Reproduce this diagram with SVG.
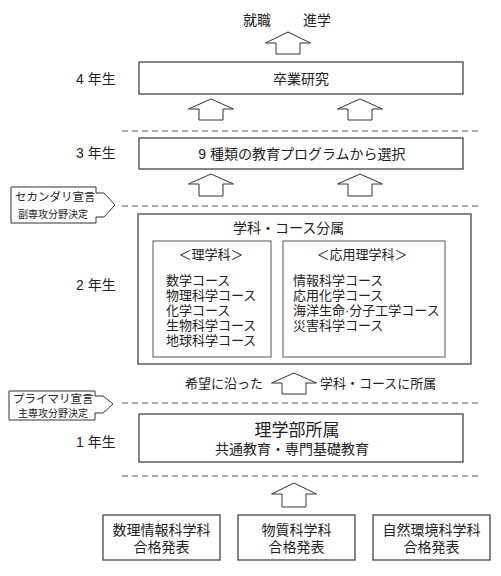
<svg xmlns="http://www.w3.org/2000/svg" width="501" height="576" viewBox="0 0 501 576">
<style>
  text { font-family: "Liberation Sans", "Noto Sans CJK JP", sans-serif; fill: #222; dominant-baseline: central; }
  .box { fill: #fff; stroke: #444; stroke-width: 1.3; }
  .inner { fill: #fff; stroke: #555; stroke-width: 1; }
  .arrow { fill: #fff; stroke: #333; stroke-width: 1; }
  .dash { stroke: #555; stroke-width: 1; stroke-dasharray: 6 4; fill: none; }
  .c { text-anchor: middle; }
  .m { font-size: 14px; }
  .s { font-size: 13px; }
</style>
<rect width="501" height="576" fill="#fff"/>

<g id="connectors">
  <line class="dash" x1="122" y1="131" x2="480" y2="131"/>
  <line class="dash" x1="122" y1="206" x2="480" y2="206"/>
  <line class="dash" x1="122" y1="403" x2="480" y2="403"/>
  <line class="dash" x1="122" y1="476" x2="480" y2="476"/>
  <path class="arrow" d="M288,32 L310.5,43 L300,43 L300,54 L276,54 L276,43 L265.5,43 Z"/>
  <path class="arrow" d="M211,99 L233.5,109 L223,109 L223,120 L199,120 L199,109 L188.5,109 Z"/>
  <path class="arrow" d="M360,99 L382.5,109 L372,109 L372,120 L348,120 L348,109 L337.5,109 Z"/>
  <path class="arrow" d="M211,174 L233.5,184 L223,184 L223,196 L199,196 L199,184 L188.5,184 Z"/>
  <path class="arrow" d="M360,174 L382.5,184 L372,184 L372,196 L348,196 L348,184 L337.5,184 Z"/>
  <path class="arrow" d="M294,373 L316.5,383 L306,383 L306,394 L282,394 L282,383 L271.5,383 Z"/>
  <path class="arrow" d="M294,483 L316.5,494 L306,494 L306,507 L282,507 L282,494 L271.5,494 Z"/>
</g>

<g id="outcome">
  <text class="m" x="243" y="20">就職</text>
  <text class="m" x="303" y="20">進学</text>
</g>

<g id="year-labels">
  <text class="m" x="76" y="79">4 年生</text>
  <text class="m" x="76" y="153">3 年生</text>
  <text class="m" x="76" y="285">2 年生</text>
  <text class="m" x="76" y="442">1 年生</text>
</g>

<g id="graduation">
  <rect class="box" x="139" y="62" width="324" height="32"/>
  <text class="m c" x="301" y="79">卒業研究</text>
</g>

<g id="program">
  <rect class="box" x="139" y="138" width="324" height="31"/>
  <text class="m c" x="302" y="154">9 種類の教育プログラムから選択</text>
</g>

<g id="secondary">
  <path class="arrow" d="M11,187 L96,187 L96,193 L104,193 L115,205 L104,217 L96,217 L96,223 L11,223 Z"/>
  <text x="15" y="197" style="font-size:11.5px">セカンダリ宣言<tspan x="18" dy="17" style="font-size:10px">副専攻分野決定</tspan></text>
</g>

<g id="department">
  <rect class="box" x="138" y="214" width="333" height="150"/>
  <text class="m" x="233" y="228">学科・コース分属</text>
  <rect class="inner" x="153" y="241" width="118" height="116"/>
  <text class="s c" x="211" y="254">＜理学科＞</text>
  <text class="s" x="166" y="280">数学コース<tspan x="166" dy="15">物理科学コース</tspan><tspan x="166" dy="15">化学コース</tspan><tspan x="166" dy="15">生物科学コース</tspan><tspan x="166" dy="15">地球科学コース</tspan></text>
  <rect class="inner" x="283" y="241" width="162" height="116"/>
  <text class="s c" x="362" y="254">＜応用理学科＞</text>
  <text class="s" x="293" y="280">情報科学コース<tspan x="293" dy="15">応用化学コース</tspan><tspan x="293" dy="15">海洋生命·分子工学コース</tspan><tspan x="293" dy="15">災害科学コース</tspan></text>
</g>

<g id="assign">
  <text class="s" x="185" y="383">希望に沿った</text>
  <text class="s" x="320" y="383">学科・コースに所属</text>
</g>

<g id="primary">
  <path class="arrow" d="M9,391 L95,391 L95,396 L103,396 L113,404 L103,413 L95,413 L95,420 L9,420 Z"/>
  <text x="13" y="399" style="font-size:11.5px">プライマリ宣言<tspan x="18" dy="14" style="font-size:10px">主専攻分野決定</tspan></text>
</g>

<g id="faculty">
  <rect class="box" x="139" y="414" width="324" height="48"/>
  <text class="c" x="297" y="430" style="font-size:17px">理学部所属<tspan class="m" x="292" dy="19">共通教育・専門基礎教育</tspan></text>
</g>

<g id="adm1">
  <rect class="box" x="103" y="515" width="117" height="45"/>
  <text class="m c" x="161.5" y="530">数理情報科学科<tspan x="161.5" dy="17">合格発表</tspan></text>
</g>
<g id="adm2">
  <rect class="box" x="238" y="515" width="117" height="45"/>
  <text class="m c" x="296.5" y="530">物質科学科<tspan x="296.5" dy="17">合格発表</tspan></text>
</g>
<g id="adm3">
  <rect class="box" x="373" y="515" width="117" height="45"/>
  <text class="m c" x="431.5" y="530">自然環境科学科<tspan x="431.5" dy="17">合格発表</tspan></text>
</g>
</svg>
